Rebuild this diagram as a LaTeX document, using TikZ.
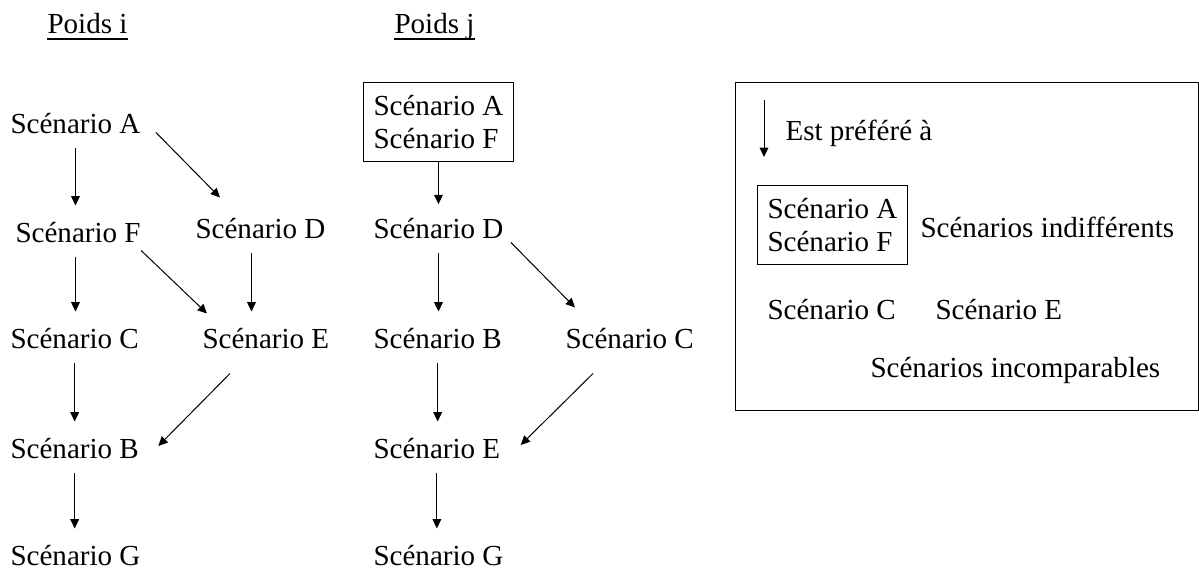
\documentclass[tikz,border=0pt]{standalone}
\usepackage{fontspec}
\setmainfont{Liberation Serif}
\usepackage{tikz}
\usetikzlibrary{calc}
\usetikzlibrary{arrows.meta}
\newcommand{\diagfont}{\fontsize{21.8}{24.75}\selectfont}
\tikzset{every picture/.style={line width=0.75pt}}
\tikzset{
  scen/.style={font=\diagfont, inner sep=0pt, anchor=base west, text height=15pt, text depth=0pt},
  grp/.style={draw, font=\diagfont, align=left, inner xsep=7.5pt, inner ysep=9.5pt, anchor=north west},
  pref/.style={-{Triangle[length=7pt,width=6.5pt]}},
  vpref/.style={pref, shorten <=11pt, shorten >=12pt}
}

\begin{document}
\begin{tikzpicture}[x=0.75pt,y=0.75pt,yscale=-1,xscale=1]
\path[use as bounding box] (0,0) rectangle (1199,571);

% Text Node
\draw (47,33) node [scen] (pi) {Poids i};
% Text Node
\draw (394,33) node [scen] (pj) {Poids j};
%Straight Lines
\draw [line width=1.5] ($(pi.base west)+(0,5.5)$) -- ($(pi.base east)+(0,5.5)$);
\draw [line width=1.5] ($(pj.base west)+(0,5.5)$) -- ($(pj.base east)+(0,5.5)$);

% Poids i
% Text Node
\draw (10,133) node [scen] (lA) {Scénario A};
\draw (15,242) node [scen] (lF) {Scénario F};
\draw (195,238) node [scen] (lD) {Scénario D};
\draw (10,348) node [scen] (lC) {Scénario C};
\draw (202,348) node [scen] (lE) {Scénario E};
\draw (10,458) node [scen] (lB) {Scénario B};
\draw (10,565) node [scen] (lG) {Scénario G};

%Straight Lines
\draw [vpref] (lA.south) -- (lA.south |- lF.north);
\draw [pref] ($(lA.south east)+(15,-1)$) -- ($(lD.north west)+(25,-20)$);
\draw [vpref] (lA.south |- lF.south) -- (lA.south |- lC.north);
\draw [pref] ($(lF.south east)+(0,8)$) -- ($(lE.north west)+(5,-14)$);
\draw [vpref] ([xshift=-6.75pt]lD.south) -- ([xshift=-6.75pt]lD.south |- lE.north);
\draw [vpref] (lC.south) -- (lC.south |- lB.north);
\draw [pref] ($(lE.south west)+(28,25)$) -- ($(lB.base east)+(19,-12)$);
\draw [vpref] (lB.south) -- (lB.south |- lG.north);

% Poids j
% Text Node
\draw (363,82) node [grp] (mAF) {Scénario A\\Scénario F};
\draw (373,238) node [scen] (mD) {Scénario D};
\draw (373,348) node [scen] (mB) {Scénario B};
\draw (565,348) node [scen] (mC) {Scénario C};
\draw (373,458) node [scen] (mE) {Scénario E};
\draw (373,565) node [scen] (mG) {Scénario G};

%Straight Lines
\draw [pref, shorten >=10pt] (mD.south |- mAF.south) -- (mD.north);
\draw [vpref] (mD.south) -- (mD.south |- mB.north);
\draw [pref] ($(mD.south east)+(7,4)$) -- ($(mC.north west)+(10,-20)$);
\draw [vpref] (mB.south) -- (mB.south |- mE.north);
\draw [pref] ($(mC.south west)+(28,25)$) -- ($(mE.base east)+(20,-13)$);
\draw [vpref] (mE.south) -- (mE.south |- mG.north);

% Legend
%Shape: Rectangle
\draw (735,82) rectangle (1198.5,410);
\coordinate (lgtop) at (764,100);
\coordinate (lgbot) at (764,157);
\draw [pref] (lgtop) -- (lgbot);
% Text Node
\draw (785,140) node [scen] (lgpref) {Est préféré à};
\draw (757,185) node [grp] (lgAF) {Scénario A\\Scénario F};
\draw (920,237) node [scen] (lgind) {Scénarios indifférents};
\draw (767,319) node [scen] (lgC) {Scénario C};
\draw (935,319) node [scen] (lgE) {Scénario E};
\draw (870,377) node [scen] (lginc) {Scénarios incomparables};

\end{tikzpicture}
\end{document}
